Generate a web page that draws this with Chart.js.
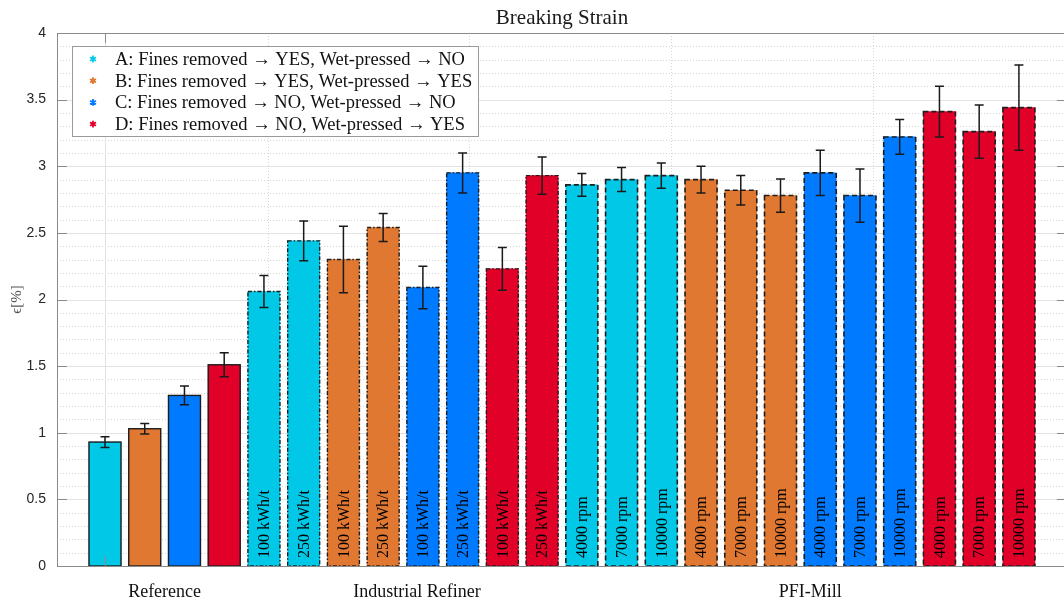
<!DOCTYPE html>
<html>
<head>
<meta charset="utf-8">
<script src="https://cdn.jsdelivr.net/npm/chart.js@4.4.1/dist/chart.umd.min.js"></script>
<style>
  html, body { margin: 0; padding: 0; overflow: hidden; background: #ffffff; }
  #wrap { width: 1072px; height: 601px; }
</style>
</head>
<body>
<div id="wrap"><canvas id="chart" width="1072" height="601"></canvas></div>
<script>
// Series (pulp treatment variants)
const seriesNames = [
  'A: Fines removed \u2192 YES, Wet-pressed \u2192 NO',
  'B: Fines removed \u2192 YES, Wet-pressed \u2192 YES',
  'C: Fines removed \u2192 NO, Wet-pressed \u2192 NO',
  'D: Fines removed \u2192 NO, Wet-pressed \u2192 YES'
];
const seriesColors = ['#00C8E6', '#E07832', '#007AFF', '#E00028'];

// Refining method groups shown under the axis
const groupNames = ['Reference', 'Industrial Refiner', 'PFI-Mill'];
const groupTicks = [2.5, 8.85, 18.75];

// One entry per bar, left to right
const barSeries = [0, 1, 2, 3,
                   0, 0, 1, 1, 2, 2, 3, 3,
                   0, 0, 0, 1, 1, 1, 2, 2, 2, 3, 3, 3];
const barGroup  = [0, 0, 0, 0,
                   1, 1, 1, 1, 1, 1, 1, 1,
                   2, 2, 2, 2, 2, 2, 2, 2, 2, 2, 2, 2];
const barLabels = ['', '', '', '',
  '100 kWh/t', '250 kWh/t', '100 kWh/t', '250 kWh/t', '100 kWh/t', '250 kWh/t', '100 kWh/t', '250 kWh/t',
  '4000 rpm', '7000 rpm', '10000 rpm', '4000 rpm', '7000 rpm', '10000 rpm',
  '4000 rpm', '7000 rpm', '10000 rpm', '4000 rpm', '7000 rpm', '10000 rpm'];
const strainMean = [0.93, 1.03, 1.28, 1.51,
                    2.06, 2.44, 2.30, 2.54, 2.09, 2.95, 2.23, 2.93,
                    2.86, 2.90, 2.93, 2.90, 2.82, 2.78, 2.95, 2.78, 3.22, 3.41, 3.26, 3.44];
const strainErr  = [0.04, 0.04, 0.07, 0.09,
                    0.12, 0.15, 0.25, 0.105, 0.16, 0.15, 0.16, 0.14,
                    0.085, 0.09, 0.095, 0.10, 0.11, 0.125, 0.17, 0.20, 0.13, 0.19, 0.20, 0.32];

// Axis grid
const yTickStep = 0.5;
const yMinorStep = 0.1;
const xGridMajor = [1];
const xGridMinor = [5.1, 10.16, 15.24, 20.33];

const SERIF = '"Liberation Serif", "Times New Roman", serif';
const SANS = '"Liberation Sans", Arial, sans-serif';
const AXIS_GRAY = '#8a8a8a';

const datasets = seriesNames.map((name, k) => ({
  label: name,
  backgroundColor: seriesColors[k],
  borderWidth: 0,
  data: barSeries
    .map((s, i) => s === k ? { x: i + 1, y: strainMean[i], err: strainErr[i], tag: barLabels[i], grp: barGroup[i] } : null)
    .filter(Boolean)
}));

// Outline style per refining method: solid, dash-dot, dashed
const dashByGroup = [[], [4, 2, 1.5, 2], [5, 3]];
const outlineWidth = [1.4, 1.4, 1.6];

const decorations = {
  id: 'decorations',
  beforeDatasetsDraw(chart) {
    const { ctx, chartArea: a, scales: { x, y } } = chart;
    ctx.save();
    ctx.lineWidth = 1;
    // minor dotted grid
    ctx.strokeStyle = '#d6d6d6';
    ctx.setLineDash([1, 2]);
    const nMinor = Math.round((y.max - y.min) / yMinorStep);
    for (let k = 1; k < nMinor; k++) {
      if (k % Math.round(yTickStep / yMinorStep) === 0) continue;
      const py = Math.round(y.getPixelForValue(y.min + k * yMinorStep)) + 0.5;
      ctx.beginPath(); ctx.moveTo(a.left, py); ctx.lineTo(a.right, py); ctx.stroke();
    }
    xGridMinor.forEach(v => {
      const px = Math.round(x.getPixelForValue(v)) + 0.5;
      ctx.beginPath(); ctx.moveTo(px, a.top); ctx.lineTo(px, a.bottom); ctx.stroke();
    });
    // major solid grid
    ctx.setLineDash([]);
    ctx.strokeStyle = '#e3e3e3';
    const nMajor = Math.round((y.max - y.min) / yTickStep);
    for (let k = 1; k < nMajor; k++) {
      const py = Math.round(y.getPixelForValue(y.min + k * yTickStep)) + 0.5;
      ctx.beginPath(); ctx.moveTo(a.left, py); ctx.lineTo(a.right, py); ctx.stroke();
    }
    xGridMajor.forEach(v => {
      const px = Math.round(x.getPixelForValue(v)) + 0.5;
      ctx.beginPath(); ctx.moveTo(px, a.top); ctx.lineTo(px, a.bottom); ctx.stroke();
    });
    ctx.restore();
  },
  afterDatasetsDraw(chart) {
    const { ctx, chartArea: a, scales: { x, y } } = chart;
    ctx.save();
    chart.data.datasets.forEach((ds, di) => {
      const meta = chart.getDatasetMeta(di);
      meta.data.forEach((el, j) => {
        const d = ds.data[j];
        const p = el.getProps(['x', 'y', 'base', 'width'], true);
        const left = p.x - p.width / 2;
        // bar outline
        ctx.strokeStyle = '#1e1e1e';
        ctx.lineWidth = outlineWidth[d.grp];
        ctx.setLineDash(dashByGroup[d.grp]);
        ctx.strokeRect(left, p.y, p.width, p.base - p.y);
        ctx.setLineDash([]);
        // label inside the bar
        if (d.tag) {
          ctx.save();
          ctx.translate(p.x, p.base - 8);
          ctx.rotate(-Math.PI / 2);
          ctx.fillStyle = '#000000';
          ctx.font = '16px ' + SERIF;
          ctx.textAlign = 'left';
          ctx.textBaseline = 'middle';
          ctx.fillText(d.tag, 0, 1);
          ctx.restore();
        }
        // error bar
        const yt = y.getPixelForValue(d.y + d.err);
        const yb = y.getPixelForValue(d.y - d.err);
        const cap = 4.5;
        ctx.strokeStyle = '#1a1a1a';
        ctx.lineWidth = 1.5;
        ctx.beginPath();
        ctx.moveTo(p.x, yt); ctx.lineTo(p.x, yb);
        ctx.moveTo(p.x - cap, yt); ctx.lineTo(p.x + cap, yt);
        ctx.moveTo(p.x - cap, yb); ctx.lineTo(p.x + cap, yb);
        ctx.stroke();
      });
    });
    // axes box and inward ticks
    ctx.strokeStyle = AXIS_GRAY;
    ctx.lineWidth = 1;
    ctx.strokeRect(Math.round(a.left) + 0.5, Math.round(a.top) + 0.5,
                   Math.round(a.right - a.left), Math.round(a.bottom - a.top));
    const tl = 10;
    ctx.beginPath();
    const nMajor = Math.round((y.max - y.min) / yTickStep);
    for (let k = 0; k <= nMajor; k++) {
      const py = Math.round(y.getPixelForValue(y.min + k * yTickStep)) + 0.5;
      ctx.moveTo(a.left, py); ctx.lineTo(a.left + tl, py);
      ctx.moveTo(a.right, py); ctx.lineTo(a.right - tl, py);
    }
    xGridMajor.forEach(v => {
      const px = Math.round(x.getPixelForValue(v)) + 0.5;
      ctx.moveTo(px, a.bottom); ctx.lineTo(px, a.bottom - tl);
      ctx.moveTo(px, a.top); ctx.lineTo(px, a.top + tl);
    });
    ctx.stroke();
    ctx.restore();
  },
  afterDraw(chart) {
    // legend inside the plot, upper left
    const { ctx, chartArea: a } = chart;
    ctx.save();
    ctx.font = '18.5px ' + SERIF;
    const names = chart.data.datasets.map(d => d.label);
    const maxW = Math.max(...names.map(n => ctx.measureText(n).width));
    const bx = a.left + 15, by = a.top + 13;
    const textX = bx + 43, rowH = 21.7;
    const bw = textX - bx + maxW + 6, bh = 90;
    ctx.fillStyle = '#ffffff';
    ctx.fillRect(bx, by, bw, bh);
    ctx.strokeStyle = '#9a9a9a';
    ctx.lineWidth = 1;
    ctx.strokeRect(Math.round(bx) + 0.5, Math.round(by) + 0.5, Math.round(bw), Math.round(bh));
    names.forEach((n, k) => {
      const cy = by + 13 + k * rowH;
      const mx = bx + 21;
      ctx.strokeStyle = chart.data.datasets[k].backgroundColor;
      ctx.lineWidth = 1.8;
      ctx.beginPath();
      for (let s = 0; s < 3; s++) {
        const ang = Math.PI / 2 + s * Math.PI / 3;
        const r = 3.4;
        ctx.moveTo(mx + r * Math.cos(ang), cy + r * Math.sin(ang));
        ctx.lineTo(mx - r * Math.cos(ang), cy - r * Math.sin(ang));
      }
      ctx.stroke();
      ctx.fillStyle = '#111111';
      ctx.textAlign = 'left';
      ctx.textBaseline = 'middle';
      ctx.fillText(n, textX, cy + 1);
    });
    ctx.restore();
  }
};

new Chart(document.getElementById('chart'), {
  type: 'bar',
  data: { datasets },
  plugins: [decorations],
  options: {
    responsive: false,
    animation: false,
    devicePixelRatio: 1,
    grouped: false,
    barThickness: 32,
    layout: { padding: { left: 0, right: 5, top: 0, bottom: 0 } },
    plugins: {
      legend: { display: false },
      tooltip: { enabled: false },
      title: {
        display: true,
        fullSize: false,
        text: 'Breaking Strain',
        color: '#1a1a1a',
        font: { family: SERIF, size: 21, weight: 'normal', lineHeight: 1 },
        padding: { top: 8, bottom: 4 }
      }
    },
    scales: {
      x: {
        type: 'linear',
        offset: false,
        min: -0.208,
        max: 25.21,
        grid: { display: false, drawTicks: false, offset: false },
        border: { display: false },
        afterBuildTicks: s => { s.ticks = groupTicks.map(v => ({ value: v })); },
        afterFit: s => { s.height = 35; },
        ticks: {
          autoSkip: false,
          maxRotation: 0,
          padding: 15,
          color: '#111111',
          font: { family: SERIF, size: 18 },
          callback: (v, i) => groupNames[i]
        }
      },
      y: {
        min: 0,
        max: 4,
        grid: { display: false, drawTicks: false },
        border: { display: false },
        afterFit: s => { s.width = 57; },
        ticks: {
          stepSize: yTickStep,
          padding: 11,
          color: '#262626',
          font: { family: SANS, size: 14 },
          callback: v => String(Math.round(v * 10) / 10)
        },
        title: {
          display: true,
          text: '\u03F5[%]',
          color: '#555555',
          font: { family: SERIF, size: 15, lineHeight: 1.2 },
          padding: { top: 8, bottom: 0 }
        }
      }
    }
  }
});
</script>
</body>
</html>
